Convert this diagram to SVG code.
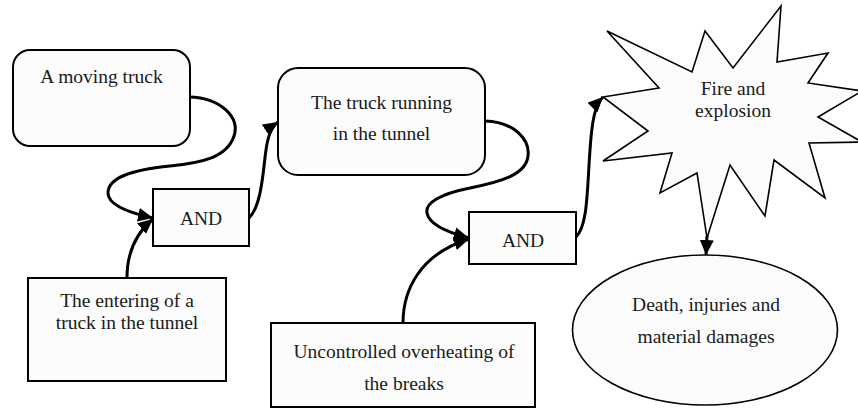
<svg xmlns="http://www.w3.org/2000/svg" width="858" height="408" viewBox="0 0 858 408">
  <style>
    .box { fill: #fcfcfc; stroke: #000; stroke-width: 2; }
    .thin { fill: #fcfcfc; stroke: #000; stroke-width: 1.6; stroke-linejoin: miter; }
    .lbl { font-family: "Liberation Serif", "Times New Roman", serif; font-size: 19.5px; fill: #1a1a1a; text-anchor: middle; }
    .edge { fill: none; stroke: #000; stroke-width: 3; }
  </style>
  <defs>
    <marker id="arrow" markerUnits="userSpaceOnUse" markerWidth="16" markerHeight="14" refX="15" refY="7" orient="auto">
      <path d="M0,0 L15,7 L0,14 z" fill="#000"/>
    </marker>
  </defs>

  <rect width="858" height="408" fill="#fff"/>

  <g id="connectors">
    <path class="edge" d="M189,97 C222,98 240,118 234,136 C227,158 200,163 170,166 C130,170 108,178 108,193 C108,205 130,213 153,218" marker-end="url(#arrow)"/>
    <path class="edge" d="M127,278 C127,255 135,234 153,219" marker-end="url(#arrow)"/>
    <path class="edge" d="M249,218 C262,205 263,170 266,150 C268,135 272,126 278,122" marker-end="url(#arrow)"/>
    <path class="edge" d="M485,121 C515,122 530,140 528,156 C526,175 500,182 470,188 C440,194 425,203 427,213 C429,225 450,233 469,238" marker-end="url(#arrow)"/>
    <path class="edge" d="M403,323 C403,290 420,254 469,239" marker-end="url(#arrow)"/>
    <path class="edge" d="M576,237 C588,225 587,190 590,150 C592,120 595,105 603,97" marker-end="url(#arrow)"/>
    <path class="edge" d="M707,236 L706,255" stroke-width="2" marker-end="url(#arrow)"/>
  </g>

  <g id="moving-truck">
    <rect class="box" x="13" y="50" width="177" height="96" rx="17"/>
    <text class="lbl" x="101.5" y="83">A moving truck</text>
  </g>

  <g id="and-1">
    <rect class="box" x="153" y="189" width="96" height="57"/>
    <text class="lbl" x="201" y="225">AND</text>
  </g>

  <g id="truck-entering">
    <rect class="box" x="28" y="278" width="198" height="103"/>
    <text class="lbl" x="127" y="307">The entering of a</text>
    <text class="lbl" x="127" y="329">truck in the tunnel</text>
  </g>

  <g id="truck-in-tunnel">
    <rect class="box" x="278" y="68" width="207" height="107" rx="20"/>
    <text class="lbl" x="381.5" y="109">The truck running</text>
    <text class="lbl" x="381.5" y="140">in the tunnel</text>
  </g>

  <g id="and-2">
    <rect class="box" x="469" y="212" width="107" height="52"/>
    <text class="lbl" x="523" y="247">AND</text>
  </g>

  <g id="overheating">
    <rect class="box" x="271" y="323" width="264" height="84"/>
    <text class="lbl" x="404" y="358">Uncontrolled overheating of</text>
    <text class="lbl" x="404" y="390">the breaks</text>
  </g>

  <g id="fire-explosion">
    <polygon class="thin" points="603,97 659,88 607,31 692,72 705,31 733,68 781,6 777,62 828,53 808,83 862,91 818,117 862,142 809,143 825,198 774,160 765,216 730,165 707,238 697,173 660,193 672,153 603,161 648,131"/>
    <text class="lbl" x="733" y="95">Fire and</text>
    <text class="lbl" x="733" y="117">explosion</text>
  </g>

  <g id="consequences">
    <ellipse class="thin" cx="705" cy="330" rx="132.5" ry="75"/>
    <text class="lbl" x="706" y="311">Death, injuries and</text>
    <text class="lbl" x="706" y="343">material damages</text>
  </g>
</svg>
